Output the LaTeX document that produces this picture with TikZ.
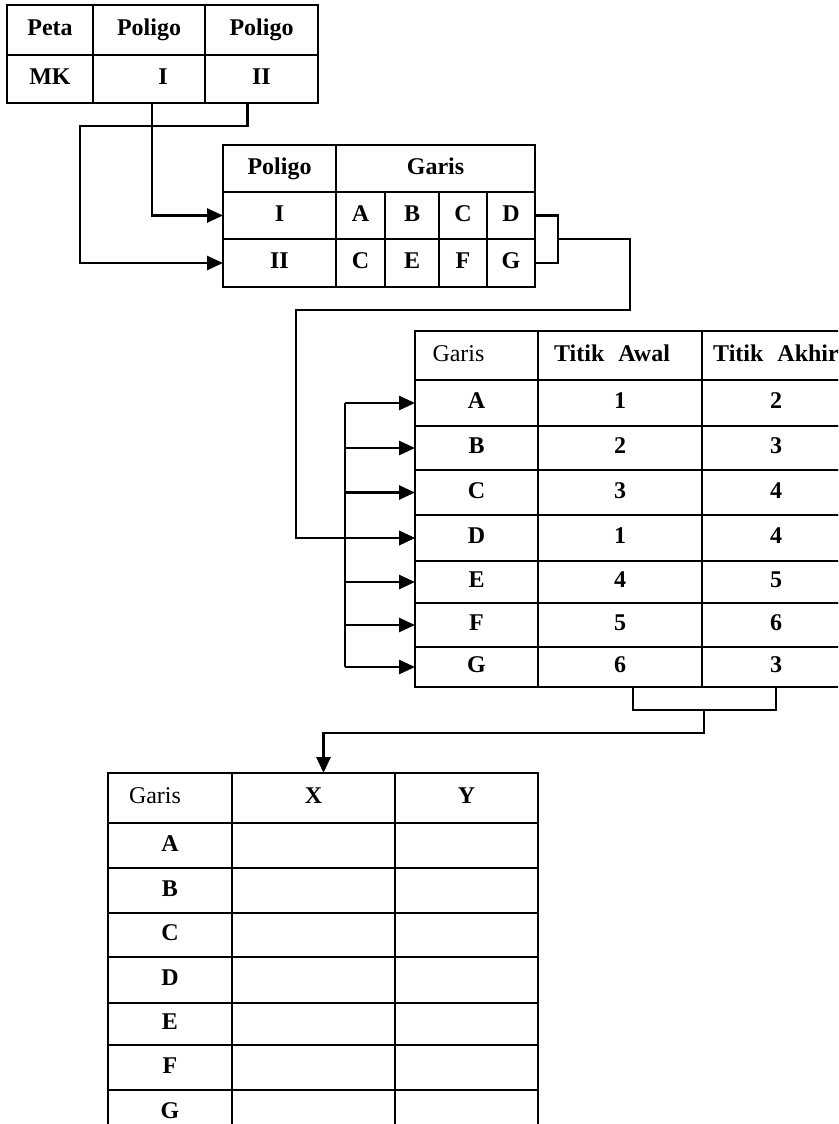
\documentclass[tikz,border=0pt]{standalone}
\usepackage{fontspec}
\setmainfont{Liberation Serif}
\usetikzlibrary{arrows.meta}
\tikzset{
  cellbox/.style={draw, line width=2.8pt, inner sep=0pt, outer sep=0pt,
    font=\fontsize{24}{27}\selectfont\bfseries, text height=16pt, text depth=5pt},
  plainhead/.style={font=\fontsize{24}{27}\selectfont},
  link/.style={line width=2.6pt},
  feed/.style={link, -{Triangle[length=16pt,width=14pt]}},
}
% \cellnode[style]{name}{x1}{y1}{x2}{y2}{text}: a framed cell between two corners
\newcommand\cellnode[7][]{%
  \node[cellbox,#1,minimum width={(#5)-(#3)},minimum height={(#6)-(#4)}]
    (#2) at ({((#3)+(#5))/2},{((#4)+(#6))/2}) {#7};}
\begin{document}
\begin{tikzpicture}[x=1pt,y=-1pt]
\useasboundingbox (0,0) rectangle (838,1124);
\clip (0,0) rectangle (838,1124);
\fill[white] (0,0) rectangle (838,1124);

% map sheet and its polygons
\cellnode{t1pe}{7}{5}{93}{55}{Peta}
\cellnode{t1p1}{93}{5}{205}{55}{Poligo}
\cellnode{t1p2}{205}{5}{318}{55}{Poligo}
\cellnode{t1mk}{7}{55}{93}{103}{MK}
\cellnode{t1i}{93}{55}{205}{103}{\hspace*{28pt}I}
\cellnode{t1ii}{205}{55}{318}{103}{II}

% polygons and their lines
\cellnode{t2h}{223}{145}{336}{192}{Poligo}
\cellnode{t2g}{336}{145}{535}{192}{Garis}
\cellnode{t2i}{223}{192}{336}{239}{I}
\cellnode{t2ii}{223}{239}{336}{287}{II}
\cellnode{t2a}{336}{192}{385}{239}{A}
\cellnode{t2b}{385}{192}{439}{239}{B}
\cellnode{t2c}{439}{192}{487}{239}{C}
\cellnode{t2d}{487}{192}{535}{239}{D}
\cellnode{t2c2}{336}{239}{385}{287}{C}
\cellnode{t2e}{385}{239}{439}{287}{E}
\cellnode{t2f}{439}{239}{487}{287}{F}
\cellnode{t2gg}{487}{239}{535}{287}{G}

% lines and their end points
\cellnode[plainhead]{t3h}{415}{331}{538}{380}{Garis\hspace*{36pt}}
\cellnode{t3haw}{538}{331}{702}{380}{Titik\hspace{14pt}Awal\hspace*{16pt}}
\cellnode{t3hak}{702}{331}{850}{380}{Titik\hspace{14pt}Akhir}
\foreach \n/\ya/\yb/\p/\q in {A/380/426/1/2, B/426/470/2/3, C/470/515/3/4,
    D/515/561/1/4, E/561/603/4/5, F/603/647/5/6, G/647/687/6/3} {
  \cellnode{t3\n}{415}{\ya}{538}{\yb}{\n}
  \cellnode{t3\n-aw}{538}{\ya}{702}{\yb}{\p}
  \cellnode{t3\n-ak}{702}{\ya}{850}{\yb}{\q}
}

% point coordinates
\cellnode[plainhead]{t4h}{108}{773}{232}{823}{Garis\hspace*{30pt}}
\cellnode{t4x}{232}{773}{395}{823}{X}
\cellnode{t4y}{395}{773}{538}{823}{Y}
\foreach \n/\ya/\yb in {A/823/868, B/868/913, C/913/957, D/957/1003,
    E/1003/1045, F/1045/1090, G/1090/1135} {
  \cellnode{t4\n}{108}{\ya}{232}{\yb}{\n}
  \cellnode{t4\n-x}{232}{\ya}{395}{\yb}{}
  \cellnode{t4\n-y}{395}{\ya}{538}{\yb}{}
}

% bends of the connectors
\coordinate (j1) at (80,126);
\coordinate (j2) at (558,239);
\coordinate (j3) at (630,310);
\coordinate (j4) at (296,310);
\coordinate (tk) at (345,0);
\coordinate (j5) at (704,710);
\coordinate (j6) at (704,733);

% polygons to their rows
\draw[feed] ([xshift=3pt]t1i.south) |- (t2i.west);
\draw[feed] ([xshift=-14pt]t1ii.south) |- (j1) |- (t2ii.west);

% lines of both polygons to the line table
\draw[link] (t2d.east) -| (j2) |- (t2gg.east);
\draw[feed] (j2) -| (j3) -- (j4) |- (t3D.west);
\draw[link] (t3A.west -| tk) -- (t3G.west -| tk);
\foreach \n in {A,B,C,D,E,F,G}
  \draw[feed] (t3\n.west -| tk) -- (t3\n.west);

% end points to the coordinate table
\draw[link] ([xshift=13pt]t3G-aw.south) |- (j5) -| (t3G-ak.south);
\draw[feed] (j5) -- (j6) -| ([xshift=10pt]t4x.north);
\end{tikzpicture}
\end{document}
